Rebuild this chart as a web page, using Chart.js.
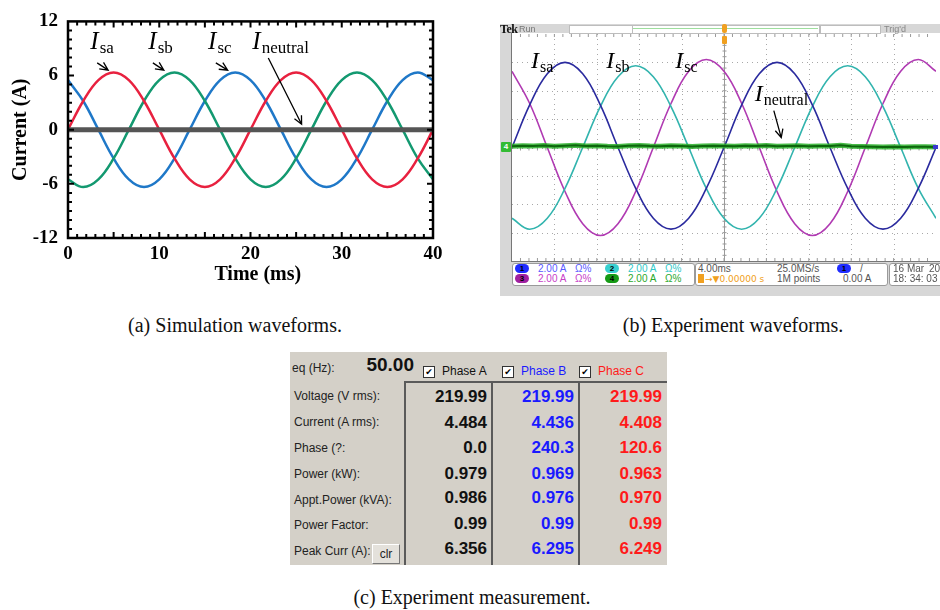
<!DOCTYPE html>
<html>
<head>
<meta charset="utf-8">
<script src="https://cdn.jsdelivr.net/npm/chart.js@4.4.1/dist/chart.umd.min.js"></script>
<style>
  body { margin: 0; background: #fff; }
  #page { position: relative; width: 940px; height: 610px; overflow: hidden; font-family: "Liberation Sans", Arial, sans-serif; }
  .abs { position: absolute; white-space: nowrap; line-height: 1; }
  canvas { position: absolute; }
  .cap { font-family: "Liberation Serif", "Times New Roman", serif; font-size: 20px; color: #111; }
  .scopeTxt { font-size: 10px; color: #555; }
  .lbl { font-size: 12px; color: #222; }
  .val { font-size: 17px; font-weight: bold; }
</style>
</head>
<body>
<div id="page">
  <canvas id="sim" width="460" height="300" style="left:0;top:0"></canvas>

  <!-- oscilloscope panel -->
  <div class="abs" style="left:500px;top:24px;width:440px;height:272px;background:#d7d7d7"></div>
  <div class="abs" style="left:511px;top:33px;width:429px;height:228px;background:#fff;border-left:1px solid #777;border-bottom:1px solid #777"></div>
  <canvas id="scope" width="424" height="227" style="left:512px;top:34px"></canvas>

  <!-- measurement panel -->
  <div class="abs" style="left:290px;top:352px;width:377px;height:213px;background:#d4d0c8;overflow:hidden"></div>
</div>

<script>
// ---- (a) simulation data (ms, A) ----
const simTime = [0, 1.67, 3.33, 5, 6.67, 8.33, 10, 11.67, 13.33, 15, 16.67, 18.33, 20,
                 21.67, 23.33, 25, 26.67, 28.33, 30, 31.67, 33.33, 35, 36.67, 38.33, 40];
const simIsa = [0, 3.18, 5.5, 6.35, 5.5, 3.18, 0, -3.18, -5.5, -6.35, -5.5, -3.18, 0,
                3.18, 5.5, 6.35, 5.5, 3.18, 0, -3.18, -5.5, -6.35, -5.5, -3.18, 0];
const simIsb = [-5.5, -6.35, -5.5, -3.18, 0, 3.18, 5.5, 6.35, 5.5, 3.18, 0, -3.18, -5.5,
                -6.35, -5.5, -3.18, 0, 3.18, 5.5, 6.35, 5.5, 3.18, 0, -3.18, -5.5];
const simIsc = [5.5, 3.18, 0, -3.18, -5.5, -6.35, -5.5, -3.18, 0, 3.18, 5.5, 6.35, 5.5,
                3.18, 0, -3.18, -5.5, -6.35, -5.5, -3.18, 0, 3.18, 5.5, 6.35, 5.5];
const simNeutralT = [0, 40];
const simNeutral = [0, 0];

// ---- (b) scope data (ms, A) ----
const scopeTime = [-20, -18.33, -16.67, -15, -13.33, -11.67, -10, -8.33, -6.67, -5, -3.33, -1.67, 0,
                   1.67, 3.33, 5, 6.67, 8.33, 10, 11.67, 13.33, 15, 16.67, 18.33, 20];
const scopeIsa = [0, 3.0, 5.2, 6.0, 5.2, 3.0, 0, -2.88, -4.98, -5.75, -4.98, -2.88, 0,
                  3.0, 5.2, 6.0, 5.2, 3.0, 0, -2.88, -4.98, -5.75, -4.98, -2.88, 0];
const scopeIsb = [-4.99, -5.76, -4.99, -2.88, 0, 2.88, 4.99, 5.76, 4.99, 2.88, 0, -2.88, -4.99,
                  -5.76, -4.99, -2.88, 0, 2.88, 4.99, 5.76, 4.99, 2.88, 0, -2.88, -4.99];
const scopeIsc = [5.37, 3.1, 0, -3.1, -5.37, -6.2, -5.37, -3.1, 0, 3.1, 5.37, 6.2, 5.37,
                  3.1, 0, -3.1, -5.37, -6.2, -5.37, -3.1, 0, 3.1, 5.37, 6.2, 5.37];
const scopeNeutralT = [-20, -19, -18, -17, -16, -15, -14, -13, -12, -11, -10, -9, -8, -7, -6, -5, -4, -3, -2, -1, 0,
                       1, 2, 3, 4, 5, 6, 7, 8, 9, 10, 11, 12, 13, 14, 15, 16, 17, 18, 19, 20];
const scopeNeutral = [0.08, 0.12, 0.1, 0.14, 0.09, 0.12, 0.16, 0.1, 0.13, 0.08, 0.07, 0.12, 0.14, 0.1, 0.08, 0.12, 0.11, 0.07, 0.1, 0.13, 0.11,
                      0.09, 0.12, 0.1, 0.14, 0.09, 0.11, 0.13, 0.08, 0.1, 0.11, 0.15, 0.09, 0.07, 0.05, 0.03, 0.05, 0.04, 0.06, 0.05, 0.04];

// ---- (c) measurement table ----
const rowLabels = ["Voltage (V rms):", "Current (A rms):", "Phase (?:", "Power (kW):", "Appt.Power (kVA):", "Power Factor:", "Peak Curr (A):"];
const phaseA = ["219.99", "4.484", "0.0", "0.979", "0.986", "0.99", "6.356"];
const phaseB = ["219.99", "4.436", "240.3", "0.969", "0.976", "0.99", "6.295"];
const phaseC = ["219.99", "4.408", "120.6", "0.963", "0.970", "0.99", "6.249"];

const pts = (xs, ys) => xs.map((x, i) => ({ x: x, y: ys[i] }));

// "I" with a subscript
function subLabel(ctx, x, y, sub, big, small) {
  ctx.fillStyle = '#000';
  ctx.textBaseline = 'alphabetic';
  ctx.textAlign = 'left';
  ctx.font = 'italic ' + big + 'px "Liberation Serif"';
  ctx.fillText('I', x, y);
  const w = ctx.measureText('I').width;
  ctx.font = small + 'px "Liberation Serif"';
  ctx.fillText(sub, x + w + 1, y + 4);
}
function arrow(ctx, x1, y1, x2, y2) {
  ctx.strokeStyle = '#000';
  ctx.lineWidth = 1.3;
  ctx.beginPath();
  ctx.moveTo(x1, y1); ctx.lineTo(x2, y2);
  const a = Math.atan2(y2 - y1, x2 - x1);
  ctx.moveTo(x2 - 9 * Math.cos(a - 0.45), y2 - 9 * Math.sin(a - 0.45));
  ctx.lineTo(x2, y2);
  ctx.lineTo(x2 - 9 * Math.cos(a + 0.45), y2 - 9 * Math.sin(a + 0.45));
  ctx.stroke();
}

const serifFamily = '"Liberation Serif", "Times New Roman", serif';

const simDecor = {
  id: 'simDecor',
  afterDatasetsDraw(chart) {
    const { ctx, chartArea: a, scales: { x, y } } = chart;
    ctx.save();
    ctx.strokeStyle = '#000';
    ctx.lineWidth = 2;
    ctx.beginPath();
    for (let t = 1; t < 40; t++) {
      const px = x.getPixelForValue(t), len = t % 5 === 0 ? 6 : 4;
      ctx.moveTo(px, a.bottom); ctx.lineTo(px, a.bottom - len);
      ctx.moveTo(px, a.top); ctx.lineTo(px, a.top + len);
    }
    for (let v = -11; v < 12; v++) {
      const py = y.getPixelForValue(v), len = v % 6 === 0 ? 6 : 4;
      ctx.moveTo(a.left, py); ctx.lineTo(a.left + len, py);
      ctx.moveTo(a.right, py); ctx.lineTo(a.right - len, py);
    }
    ctx.stroke();
    ctx.lineWidth = 2.5;
    ctx.strokeRect(a.left, a.top, a.width, a.height);

    const X = v => x.getPixelForValue(v), Y = v => y.getPixelForValue(v);
    subLabel(ctx, X(2.45), Y(8.9), 'sa', 25, 17);
    subLabel(ctx, X(8.8), Y(8.9), 'sb', 25, 17);
    subLabel(ctx, X(15.35), Y(8.9), 'sc', 25, 17);
    subLabel(ctx, X(20.2), Y(8.9), 'neutral', 25, 17);
    arrow(ctx, X(3.2), Y(7.4), X(4.4), Y(6.6));
    arrow(ctx, X(9.3), Y(7.4), X(10.5), Y(6.6));
    arrow(ctx, X(16.2), Y(7.4), X(17.5), Y(6.6));
    arrow(ctx, X(21.95), Y(7.95), X(25.6), Y(0.6));

    // x axis title, sits a little right of centre in the original
    ctx.fillStyle = '#000';
    ctx.font = 'bold 20px ' + serifFamily;
    ctx.textAlign = 'center';
    ctx.textBaseline = 'middle';
    ctx.fillText('Time (ms)', X(20.8), a.bottom + 37);
    ctx.restore();
  }
};

const tickFont = { family: serifFamily, size: 19, weight: 'bold' };

new Chart(document.getElementById('sim'), {
  type: 'line',
  data: {
    datasets: [
      { label: 'Ineutral', data: pts(simNeutralT, simNeutral), borderColor: '#555555', borderWidth: 5 },
      { label: 'Isa', data: pts(simTime, simIsa), borderColor: '#e8213f', borderWidth: 2.5 },
      { label: 'Isb', data: pts(simTime, simIsb), borderColor: '#139970', borderWidth: 2.5 },
      { label: 'Isc', data: pts(simTime, simIsc), borderColor: '#1f78c8', borderWidth: 2.5 }
    ]
  },
  options: {
    responsive: false,
    animation: false,
    layout: { padding: { left: 5, top: 14, right: 27, bottom: 10 } },
    elements: { point: { radius: 0 }, line: { tension: 0.4 } },
    plugins: { legend: { display: false }, tooltip: { enabled: false } },
    scales: {
      x: {
        type: 'linear', min: 0, max: 40,
        grid: { display: false, drawTicks: false },
        border: { display: false },
        ticks: { stepSize: 10, color: '#000', font: tickFont, padding: 5, maxRotation: 0 },
        afterFit(s) { s.height = 52; }
      },
      y: {
        min: -12, max: 12,
        grid: { display: false, drawTicks: false },
        border: { display: false },
        ticks: { stepSize: 6, color: '#000', font: tickFont, padding: 10 },
        title: { display: true, text: 'Current (A)', color: '#000', font: { family: serifFamily, size: 20, weight: 'bold' } },
        afterFit(s) { s.width = 63; }
      }
    }
  },
  plugins: [simDecor]
});

// ---- scope ----
const scopeDecor = {
  id: 'scopeDecor',
  beforeDatasetsDraw(chart) {
    const { ctx, chartArea: a, scales: { x, y } } = chart;
    ctx.save();
    ctx.strokeStyle = '#a8a8a8';
    ctx.lineWidth = 1;
    ctx.setLineDash([1, 4]);
    ctx.beginPath();
    for (let t = -16; t < 20; t += 4) {
      if (t === 0) continue;
      const px = Math.round(x.getPixelForValue(t)) + 0.5;
      ctx.moveTo(px, a.top); ctx.lineTo(px, a.bottom);
    }
    for (let v = -6; v < 8; v += 2) {
      const py = Math.round(y.getPixelForValue(v)) + 0.5;
      ctx.moveTo(a.left, py); ctx.lineTo(a.right, py);
    }
    ctx.stroke();
    ctx.setLineDash([]);
    const cx = Math.round(x.getPixelForValue(0)) + 0.5, cy = Math.round(y.getPixelForValue(0)) + 0.5;
    ctx.strokeStyle = '#9a9a9a';
    ctx.beginPath();
    ctx.moveTo(cx, a.top); ctx.lineTo(cx, a.bottom);
    for (let t = -19.2; t < 20; t += 0.8) {
      const px = x.getPixelForValue(t);
      ctx.moveTo(px, cy - 2); ctx.lineTo(px, cy + 2);
      ctx.moveTo(px, a.bottom); ctx.lineTo(px, a.bottom - 3);
      ctx.moveTo(px, a.top); ctx.lineTo(px, a.top + 3);
    }
    for (let v = -7.6; v < 8; v += 0.4) {
      const py = y.getPixelForValue(v);
      ctx.moveTo(cx - 2, py); ctx.lineTo(cx + 2, py);
    }
    ctx.stroke();
    ctx.restore();
  },
  afterDatasetsDraw(chart) {
    const { ctx, scales: { x, y } } = chart;
    const X = v => x.getPixelForValue(v), Y = v => y.getPixelForValue(v);
    ctx.save();
    subLabel(ctx, X(-18.2), Y(5.6), 'sa', 24, 16);
    subLabel(ctx, X(-11.1), Y(5.6), 'sb', 24, 16);
    subLabel(ctx, X(-4.6), Y(5.6), 'sc', 24, 16);
    subLabel(ctx, X(2.9), Y(3.3), 'neutral', 24, 16);
    arrow(ctx, X(4.7), Y(2.6), X(5.4), Y(0.7));
    ctx.restore();
  }
};

new Chart(document.getElementById('scope'), {
  type: 'line',
  data: {
    datasets: [
      { label: 'neutral', data: pts(scopeNeutralT, scopeNeutral), borderColor: '#0c660c', borderWidth: 2, tension: 0 },
      { label: 'neutral band', data: pts(scopeNeutralT, scopeNeutral), borderColor: 'rgba(40,175,40,0.85)', borderWidth: 5, tension: 0 },
      { label: 'Isa', data: pts(scopeTime, scopeIsa), borderColor: '#2a2a9e', borderWidth: 1.6 },
      { label: 'Isb', data: pts(scopeTime, scopeIsb), borderColor: '#32b4ae', borderWidth: 1.6 },
      { label: 'Isc', data: pts(scopeTime, scopeIsc), borderColor: '#b03ab2', borderWidth: 1.6 }
    ]
  },
  options: {
    responsive: false,
    animation: false,
    layout: { padding: 0 },
    elements: { point: { radius: 0 }, line: { tension: 0.4 } },
    plugins: { legend: { display: false }, tooltip: { enabled: false } },
    scales: {
      x: { type: 'linear', min: -20, max: 20, display: false },
      y: { min: -8, max: 8, display: false }
    }
  },
  plugins: [scopeDecor]
});

// ---- html bits ----
const page = document.getElementById('page');
function put(text, x, y, cls, css, align) {
  const d = document.createElement('div');
  d.className = 'abs ' + (cls || '');
  d.textContent = text;
  if (css) d.style.cssText += css;
  d.style.left = x + 'px';
  d.style.top = y + 'px';
  d.style.transform = align === 'r' ? 'translate(-100%,-50%)' : align === 'c' ? 'translate(-50%,-50%)' : 'translate(0,-50%)';
  page.appendChild(d);
  return d;
}
function rect(x, y, w, h, css) {
  const d = document.createElement('div');
  d.className = 'abs';
  d.style.cssText = 'left:' + x + 'px;top:' + y + 'px;width:' + w + 'px;height:' + h + 'px;' + css;
  page.appendChild(d);
  return d;
}

// captions
put('(a) Simulation waveforms.', 235, 325, 'cap', '', 'c');
put('(b) Experiment waveforms.', 733, 325, 'cap', '', 'c');
put('(c) Experiment measurement.', 472, 597, 'cap', '', 'c');

// scope header
put('Tek', 500, 29, '', 'font-family:"Liberation Serif",serif;font-weight:bold;font-size:12px;color:#111;letter-spacing:-0.5px');
put('Run', 519, 29, 'scopeTxt', 'font-size:9px;color:#777');
rect(569, 25, 249, 7, 'background:#fff;border:1px solid #bdbdbd');
rect(632, 25, 1, 8, 'background:#bdbdbd');
rect(633, 28, 185, 1, 'background:#9ede9e');
rect(820, 25, 59, 7, 'background:#fff;border:1px solid #bdbdbd');
put("Trig'd", 884, 29, 'scopeTxt', 'font-size:9px;color:#888');
rect(722, 24, 5, 9, 'background:#f0a020;border-radius:2px');
rect(722, 36, 5, 8, 'background:#f0a020;border-radius:1px');
rect(501, 142, 10, 10, 'background:#33bb33;border-radius:1px');
put('4', 506, 147, '', 'font-size:8px;color:#fff;font-weight:bold', 'c');
rect(933, 145, 5, 4, 'background:#3a3ad0');

// scope status bar
rect(512, 263, 181, 21, 'background:#fff;border:1px solid #9a9a9a;border-radius:3px');
rect(695, 263, 191, 21, 'background:#fff;border:1px solid #9a9a9a;border-radius:3px');
rect(889, 263, 60, 21, 'background:#fff;border:1px solid #9a9a9a;border-radius:3px');
const pill = (x, y, n, bg) => { const p = rect(x, y - 4.5, 14, 9, 'background:' + bg + ';border-radius:5px;font-size:8px;font-weight:bold;text-align:center;line-height:9px;color:#000'); p.textContent = n; };
pill(515, 268.5, '1', '#1f2cff');
put('2.00 A', 538, 268.5, 'scopeTxt', 'color:#5a5aff');
put('Ω%', 575, 268.5, 'scopeTxt', 'color:#5a5aff');
pill(605, 268.5, '2', '#38d0d0');
put('2.00 A', 628, 268.5, 'scopeTxt', 'color:#30c8c8');
put('Ω%', 665, 268.5, 'scopeTxt', 'color:#30c8c8');
pill(515, 278.5, '3', '#a020a0');
put('2.00 A', 538, 278.5, 'scopeTxt', 'color:#c840c8');
put('Ω%', 575, 278.5, 'scopeTxt', 'color:#c840c8');
pill(605, 278.5, '4', '#169a16');
put('2.00 A', 628, 278.5, 'scopeTxt', 'color:#2aa82a');
put('Ω%', 665, 278.5, 'scopeTxt', 'color:#2aa82a');
put('4.00ms', 698, 268.5, 'scopeTxt');
put('25.0MS/s', 777, 268.5, 'scopeTxt');
pill(837, 268.5, '1', '#1f2cff');
put('/', 860, 268.5, 'scopeTxt');
rect(698, 274, 6, 9, 'background:#f0a020');
put('→▼0.00000 s', 705, 278.5, 'scopeTxt', 'color:#f0a020;font-family:"DejaVu Sans",sans-serif;font-size:9px');
put('1M points', 777, 278.5, 'scopeTxt');
put('0.00 A', 843, 278.5, 'scopeTxt');
put('16 Mar', 893, 268.5, 'scopeTxt');
put('20', 929, 268.5, 'scopeTxt');
put('18: 34: 03', 893, 278.5, 'scopeTxt');

// measurement panel
put('eq (Hz):', 292, 368, 'lbl');
put('50.00', 414, 364, '', 'font-size:19px;font-weight:bold;color:#111', 'r');
const phases = [['Phase A', 423, '#111'], ['Phase B', 502, '#1a1aff'], ['Phase C', 579, '#ff1a1a']];
phases.forEach(p => {
  const c = rect(p[1], 366, 10, 10, 'background:#fff;border:1px solid #333;font-family:"DejaVu Sans",sans-serif;font-size:9px;line-height:10px;text-align:center;color:#000');
  c.textContent = '✔';
  put(p[0], p[1] + 19, 371, 'lbl', 'color:' + p[2]);
});
rect(405, 381, 262, 2, 'background:#5a5a5a');
rect(404, 381, 2, 184, 'background:#5a5a5a');
rect(491, 381, 2, 184, 'background:#5a5a5a');
rect(578, 381, 2, 184, 'background:#5a5a5a');
const rowY = [396, 421.5, 447, 472.5, 497, 522.5, 548];
const labelY = [396, 422, 448, 474, 500, 525, 551];
rowLabels.forEach((t, i) => put(t, 294, labelY[i], 'lbl'));
phaseA.forEach((t, i) => put(t, 487, rowY[i], 'val', 'color:#111', 'r'));
phaseB.forEach((t, i) => put(t, 574, rowY[i], 'val', 'color:#1a1aff', 'r'));
phaseC.forEach((t, i) => put(t, 662, rowY[i], 'val', 'color:#ff1a1a', 'r'));
const clr = rect(372, 544, 26, 18, 'background:#e4e1db;border-top:1px solid #fff;border-left:1px solid #fff;border-right:1px solid #777;border-bottom:1px solid #777;font-size:12px;line-height:18px;text-align:center;color:#222');
clr.textContent = 'clr';
</script>
</body>
</html>
